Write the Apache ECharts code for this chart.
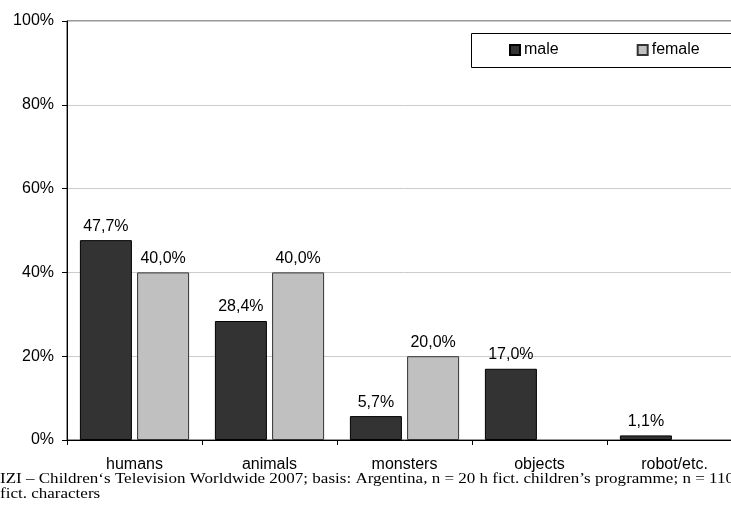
<!DOCTYPE html>
<html>
<head>
<meta charset="utf-8">
<script src="https://cdn.jsdelivr.net/npm/echarts@6/dist/echarts.min.js"></script>
<style>
  html, body { margin: 0; padding: 0; overflow: hidden; background: #fff; width: 731px; height: 508px; }
  #chart { width: 760px; height: 508px; }
</style>
</head>
<body>
<div id="chart"></div>
<script>
// Fictional characters by type and gender (share in %)
const categories = ['humans', 'animals', 'monsters', 'objects', 'robot/etc.'];
const maleValues = [47.7, 28.4, 5.7, 17.0, 1.1];
const femaleValues = [40.0, 40.0, 20.0, null, null];
const yTicks = [0, 20, 40, 60, 80, 100];
const seriesNames = ['male', 'female'];
const sourceLines = [
  'IZI \u2013 Children\u2018s Television Worldwide 2007; basis: Argentina, n = 20 h fict. children\u2019s programme; n = 110',
  'fict. characters'
];

const fmt = v => v.toFixed(1).replace('.', ',') + '%';
const sans = 'Liberation Sans, Arial, sans-serif';
const fs = 16;

const chart = echarts.init(document.getElementById('chart'), null, { renderer: 'canvas' });

const labelStyle = {
  show: true,
  position: 'top',
  distance: 6,
  color: '#000',
  fontFamily: sans,
  fontSize: fs,
  formatter: p => (p.value == null ? '' : fmt(p.value))
};

chart.setOption({
  animation: false,
  grid: {
    left: 67, right: 18, top: 21, bottom: 68,
    show: true, borderColor: '#333', borderWidth: 1
  },
  legend: {
    data: seriesNames,
    icon: 'rect',
    left: 509, top: 42,
    itemWidth: 10, itemHeight: 10,
    itemGap: 78,
    padding: 0,
    textStyle: { fontFamily: sans, fontSize: fs, color: '#000', padding: [0, 0, 0, -1] }
  },
  xAxis: {
    type: 'category',
    data: categories,
    axisLine: { lineStyle: { color: '#000', width: 1 } },
    axisTick: { show: true, length: 5, lineStyle: { color: '#000' } },
    axisLabel: { color: '#000', fontFamily: sans, fontSize: fs, margin: 17 }
  },
  yAxis: {
    type: 'value',
    min: yTicks[0], max: yTicks[yTicks.length - 1], interval: yTicks[1] - yTicks[0],
    axisLine: { show: true, lineStyle: { color: '#000', width: 1 } },
    axisTick: { show: true, length: 5, lineStyle: { color: '#000' } },
    axisLabel: { color: '#000', fontFamily: sans, fontSize: fs, margin: 13, formatter: v => v + '%' },
    splitLine: { show: true, lineStyle: { color: '#cccccc', width: 1 } }
  },
  graphic: [
    {
      type: 'rect', left: 471, top: 33, z: 0,
      shape: { width: 300, height: 34 },
      style: { fill: '#fff', stroke: '#000', lineWidth: 1 }
    },
    {
      type: 'text', left: 0, top: 472,
      scaleX: 1.135,
      style: {
        text: sourceLines.join('\n'),
        font: '15px "Liberation Serif", "Times New Roman", serif',
        lineHeight: 15,
        fill: '#000'
      }
    }
  ],
  series: [
    {
      name: seriesNames[0], type: 'bar', data: maleValues,
      barWidth: 52, barGap: '10%',
      itemStyle: { color: '#333333', borderColor: '#000', borderWidth: 1 },
      label: labelStyle
    },
    {
      name: seriesNames[1], type: 'bar', data: femaleValues,
      barWidth: 52,
      itemStyle: { color: '#c0c0c0', borderColor: '#333', borderWidth: 1 },
      label: labelStyle
    }
  ]
});
</script>
</body>
</html>
